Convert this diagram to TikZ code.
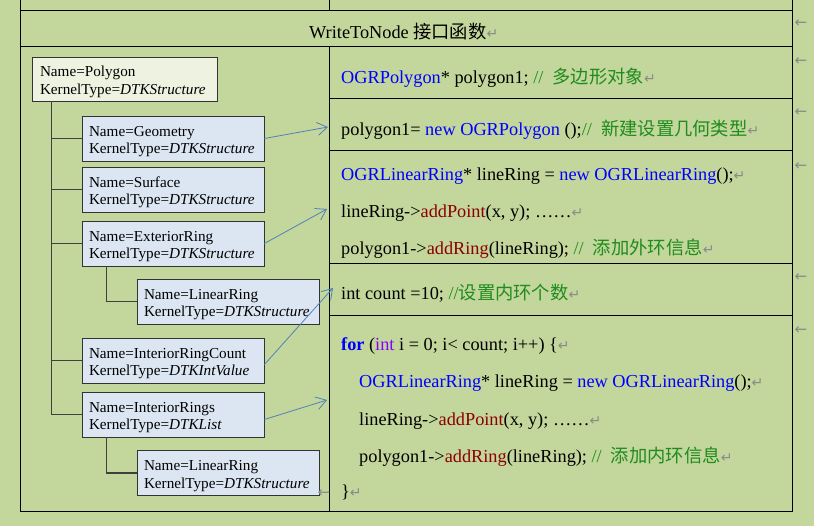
\documentclass[tikz,border=0pt]{standalone}
\usepackage{fontspec}
\setmainfont{Liberation Serif}
\newfontfamily\cjk{Noto Sans CJK SC}
\newfontfamily\markfont{DejaVu Sans}
\usetikzlibrary{arrows.meta}
\definecolor{pagegreen}{HTML}{C3D69B}
\definecolor{rootfill}{HTML}{EEF2E0}
\definecolor{itemfill}{HTML}{DCE6F2}
\definecolor{linkblue}{HTML}{4F81BD}
\definecolor{kwblue}{HTML}{0000FF}
\definecolor{fnred}{HTML}{8B0000}
\definecolor{cmtgreen}{HTML}{1E8C1E}
\definecolor{typpurple}{HTML}{8A00FF}
\definecolor{markgray}{HTML}{8A8A8A}
\newcommand{\kw}[1]{\textcolor{kwblue}{#1}}
\newcommand{\fn}[1]{\textcolor{fnred}{#1}}
\newcommand{\cmt}[1]{\textcolor{cmtgreen}{#1}}
\newcommand{\ty}[1]{\textcolor{typpurple}{#1}}
\newcommand{\pmark}{{\markfont\fontsize{14}{14}\selectfont\textcolor{markgray}{↵}}}
\newcommand{\kt}[1]{KernelType=\textit{#1}}
\begin{document}
\begin{tikzpicture}[x=1pt, y=-1pt,
  tbox/.style={draw=black!80, line width=0.8pt, fill=itemfill, minimum width=182pt, minimum height=45pt,
    text width=168pt, inner xsep=7pt, align=left, font=\fontsize{15.2}{17.5}\selectfont,
    execute at begin node={\rule{0pt}{16pt}}},
  tree/.style={draw=black!75, line width=1.5pt},
  link/.style={draw=linkblue, line width=0.8pt, -{Straight Barb[length=10pt,width=13pt]}},
  code/.style={anchor=base west, inner sep=0pt, font=\fontsize{18.3}{22}\selectfont},
  rowmark/.style={inner sep=0pt, font=\markfont\fontsize{15}{15}\selectfont, text=markgray}]
  \fill[pagegreen] (0,0) rectangle (814,526);
  \useasboundingbox (0,0) rectangle (814,526);

  \draw[line width=0.9pt] (20,0) -- (20,511) -- (792,511) -- (792,0);
  \draw[line width=0.9pt] (20,10) -- (792,10);
  \draw[line width=0.9pt] (20,46) -- (792,46);
  \draw[line width=0.9pt] (329,0) -- (329,10);
  \draw[line width=0.9pt] (329,46) -- (329,511);
  \foreach \y in {98,150,263,315}
    \draw[line width=0.9pt] (329,\y) -- (792,\y);

  \node[code, anchor=base west] (title) at (309,39) {WriteToNode {\cjk 接口函数}\pmark};

  \node[tbox, fill=rootfill, minimum width=185pt, minimum height=44pt, text width=169pt, inner xsep=8pt] (root) at (124.5,79)
    {Name=Polygon\\\kt{DTKStructure}};
  \node[tbox] (geom) at (173,138.5) {Name=Geometry\\\kt{DTKStructure}};
  \node[tbox] (surf) at (173,189.5) {Name=Surface\\\kt{DTKStructure}};
  \node[tbox] (ering) at (173,243.5) {Name=ExteriorRing\\\kt{DTKStructure}};
  \node[tbox] (lring1) at (228,301.5) {Name=LinearRing\\\kt{DTKStructure}};
  \node[tbox] (ircount) at (173,360.5) {Name=InteriorRingCount\\\kt{DTKIntValue}};
  \node[tbox] (irings) at (173,414.5) {Name=InteriorRings\\\kt{DTKList}};
  \node[tbox] (lring2) at (228,473) {Name=LinearRing\\\kt{DTKStructure}};

  \coordinate (trunk) at ([xshift=20pt]root.south west);
  \draw[tree] (trunk) |- (irings.west);
  \foreach \n in {geom,surf,ering,ircount}
    \draw[tree] (trunk |- \n.west) -- (\n.west);
  \draw[tree] ([xshift=25pt]ering.south west) |- (lring1.west);
  \draw[tree] ([xshift=25pt]irings.south west) |- (lring2.west);

  \node[code] (l1) at (341,84) {\kw{OGRPolygon}* polygon1; \cmt{// \ {\cjk 多边形对象}}\pmark};
  \node[code] (l2) at (341,136) {polygon1= \kw{new OGRPolygon} ();\cmt{// \ {\cjk 新建设置几何类型}}\pmark};
  \node[code] (l3) at (341,181) {\kw{OGRLinearRing}* lineRing = \kw{new OGRLinearRing}();\pmark};
  \node[code] (l4) at (341,218) {lineRing->\fn{addPoint}(x, y); ……\pmark};
  \node[code] (l5) at (341,255) {polygon1->\fn{addRing}(lineRing); \cmt{// \ {\cjk 添加外环信息}}\pmark};
  \node[code] (l6) at (341,300) {int count =10; \cmt{//{\cjk 设置内环个数}}\pmark};
  \node[code] (l7) at (341,351) {\kw{\bfseries for} (\ty{int} i = 0; i< count; i++) \{\pmark};
  \node[code] (l8) at (359,388) {\kw{OGRLinearRing}* lineRing = \kw{new OGRLinearRing}();\pmark};
  \node[code] (l9) at (359,425) {lineRing->\fn{addPoint}(x, y); ……\pmark};
  \node[code] (l10) at (359,462) {polygon1->\fn{addRing}(lineRing); \cmt{// \ {\cjk 添加内环信息}}\pmark};
  \node[code] (l11) at (341,497) {\}\pmark};

  \coordinate (a1) at (328,127);
  \coordinate (a2) at (327,209);
  \coordinate (a3) at (333,288);
  \coordinate (a4) at (327,400);
  \draw[link] (geom.east) -- (a1);
  \draw[link] (ering.east) -- (a2);
  \draw[link] ([yshift=-4pt]ircount.east) -- (a3);
  \draw[link] ([yshift=-5pt]irings.east) -- (a4);

  \foreach \y in {24,62,113,167,278,331}
    \node[rowmark] (rm-\y) at (801,\y) {←};
  \node[rowmark] (cellend) at (324,494) {←};
\end{tikzpicture}
\end{document}
